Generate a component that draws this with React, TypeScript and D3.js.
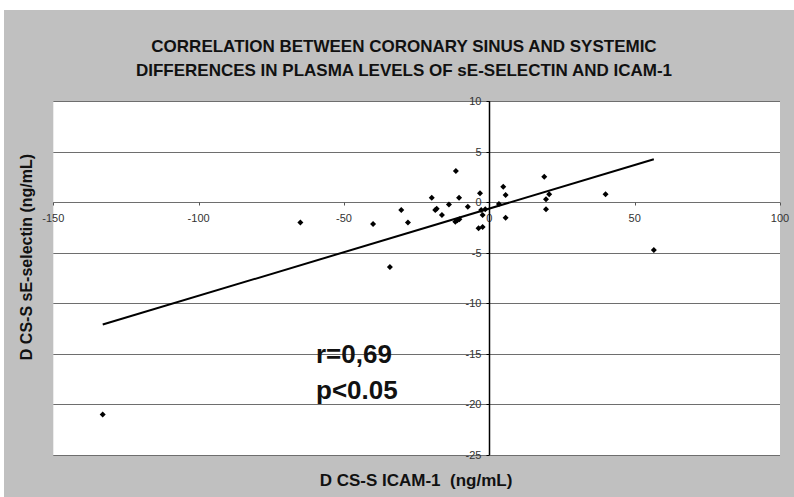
// App.tsx
import React, { useEffect, useRef } from 'react';
import * as d3 from 'd3';

// ICAM-1 differences (x) and sE-selectin differences (y)
const icamDiff = [
  -133, -65, -40, -30.3, -28, -34.2,
  -19.8, -18.6, -18.1, -16.3, -13.9, -11.5, -10.4, -11.7, -11.0, -10.3,
  -7.4, -3.2, -2.8, -2.3, -1.4, -3.7, -2.3,
  3.3, 4.8, 5.6, 5.6, 18.9, 20.6, 19.5, 19.5, 40, 56.6,
];
const selectinDiff = [
  -21, -2.0, -2.15, -0.76, -2.0, -6.4,
  0.46, -0.76, -0.63, -1.26, -0.2, 3.1, 0.46, -1.92, -1.78, -1.68,
  -0.44, 0.89, -0.76, -1.26, -0.69, -2.57, -2.45,
  -0.17, 1.54, 0.72, -1.52, 2.53, 0.79, 0.3, -0.69, 0.79, -4.72,
];
const xTicks = [-150, -100, -50, 0, 50, 100];
const yTicks = [10, 5, 0, -5, -10, -15, -20, -25];
const titleLines = [
  'CORRELATION BETWEEN CORONARY SINUS AND SYSTEMIC',
  'DIFFERENCES IN PLASMA LEVELS OF sE-SELECTIN AND ICAM-1',
];
const statLines = ['r=0,69', 'p<0.05'];

const W = 794;
const H = 497;

const App = () => {
  const ref = useRef(null);

  useEffect(() => {
    const svg = d3.select(ref.current);
    svg.selectAll('*').remove();

    const plot = { left: 53.3, right: 780, top: 101.3, bottom: 455 };
    const x = d3.scaleLinear().domain([-150, 100]).range([plot.left, plot.right]);
    const y = d3.scaleLinear().domain([-25, 10]).range([plot.bottom, plot.top]);
    const font = 'Arial, "Liberation Sans", sans-serif';

    // chart background
    svg.append('rect')
      .attr('x', 4).attr('y', 10)
      .attr('width', W - 4).attr('height', H - 10)
      .attr('fill', '#c0c0c0');

    // plot area
    svg.append('rect')
      .attr('x', plot.left).attr('y', plot.top)
      .attr('width', plot.right - plot.left).attr('height', plot.bottom - plot.top)
      .attr('fill', '#fff');

    // horizontal gridlines
    svg.append('g').selectAll('line')
      .data(yTicks)
      .join('line')
      .attr('x1', plot.left).attr('x2', plot.right)
      .attr('y1', d => Math.round(y(d)) + 0.5).attr('y2', d => Math.round(y(d)) + 0.5)
      .attr('stroke', '#6e6e6e')
      .attr('stroke-width', 1);

    const y0 = Math.round(y(0)) + 0.5;
    const x0 = Math.round(x(0)) + 0.5;

    // x ticks + labels on the zero line
    const xg = svg.append('g');
    xg.selectAll('line')
      .data(xTicks)
      .join('line')
      .attr('x1', d => Math.round(x(d)) + 0.5).attr('x2', d => Math.round(x(d)) + 0.5)
      .attr('y1', y0).attr('y2', y0 + 3)
      .attr('stroke', '#555');
    xg.selectAll('text')
      .data(xTicks)
      .join('text')
      .attr('x', d => x(d))
      .attr('y', y0 + 19)
      .attr('text-anchor', 'middle')
      .style('font-family', font)
      .style('font-size', '11px')
      .attr('fill', '#333')
      .text(d => d);

    // y axis
    svg.append('line')
      .attr('x1', x0).attr('x2', x0)
      .attr('y1', plot.top).attr('y2', plot.bottom)
      .attr('stroke', '#000')
      .attr('stroke-width', 1.5);
    const yg = svg.append('g');
    yg.selectAll('line')
      .data(yTicks)
      .join('line')
      .attr('x1', x0 - 3).attr('x2', x0)
      .attr('y1', d => Math.round(y(d)) + 0.5).attr('y2', d => Math.round(y(d)) + 0.5)
      .attr('stroke', '#000');
    yg.selectAll('text')
      .data(yTicks)
      .join('text')
      .attr('x', x0 - 8)
      .attr('y', d => y(d))
      .attr('dy', '0.35em')
      .attr('text-anchor', 'end')
      .style('font-family', font)
      .style('font-size', '11px')
      .attr('fill', '#333')
      .text(d => d);

    // least squares trendline over the data range
    const mx = d3.mean(icamDiff);
    const my = d3.mean(selectinDiff);
    const sxy = d3.sum(icamDiff, (v, i) => (v - mx) * (selectinDiff[i] - my));
    const sxx = d3.sum(icamDiff, v => (v - mx) ** 2);
    const slope = sxy / sxx;
    const icpt = my - slope * mx;
    const ext = d3.extent(icamDiff);
    svg.append('path')
      .datum(ext.map(v => [v, icpt + slope * v]))
      .attr('d', d3.line().x(d => x(d[0])).y(d => y(d[1])))
      .attr('stroke', '#000')
      .attr('stroke-width', 2)
      .attr('fill', 'none');

    // points
    const diamond = d3.symbol().type(d3.symbolSquare).size(18);
    svg.append('g').selectAll('path')
      .data(icamDiff.map((v, i) => [v, selectinDiff[i]]))
      .join('path')
      .attr('d', diamond)
      .attr('transform', d => `translate(${x(d[0])},${y(d[1])}) rotate(45)`)
      .attr('fill', '#000');

    // r / p annotation
    svg.append('g').selectAll('text')
      .data(statLines)
      .join('text')
      .attr('x', 316)
      .attr('y', (d, i) => 363 + i * 36)
      .style('font-family', font)
      .style('font-size', '26px')
      .style('font-weight', 'bold')
      .attr('fill', '#111')
      .text(d => d);

    // title
    svg.append('g').selectAll('text')
      .data(titleLines)
      .join('text')
      .attr('x', 404)
      .attr('y', (d, i) => 52 + i * 24)
      .attr('text-anchor', 'middle')
      .style('font-family', font)
      .style('font-size', '17px')
      .style('font-weight', 'bold')
      .attr('fill', '#111')
      .text(d => d);

    // axis titles
    svg.append('text')
      .attr('x', 416)
      .attr('y', 486)
      .attr('text-anchor', 'middle')
      .style('font-family', font)
      .style('font-size', '17px')
      .style('font-weight', 'bold')
      .style('white-space', 'pre')
      .attr('fill', '#111')
      .text('D CS-S ICAM-1  (ng/mL)');

    svg.append('text')
      .attr('transform', 'translate(32,257) rotate(-90)')
      .attr('text-anchor', 'middle')
      .style('font-family', font)
      .style('font-size', '16px')
      .style('font-weight', 'bold')
      .attr('fill', '#111')
      .text('D CS-S sE-selectin (ng/mL)');
  }, []);

  return (
    <svg
      ref={ref}
      width={W}
      height={H}
      style={{ position: 'absolute', left: 0, top: 0, background: '#fff' }}
    />
  );
};

export default App;
